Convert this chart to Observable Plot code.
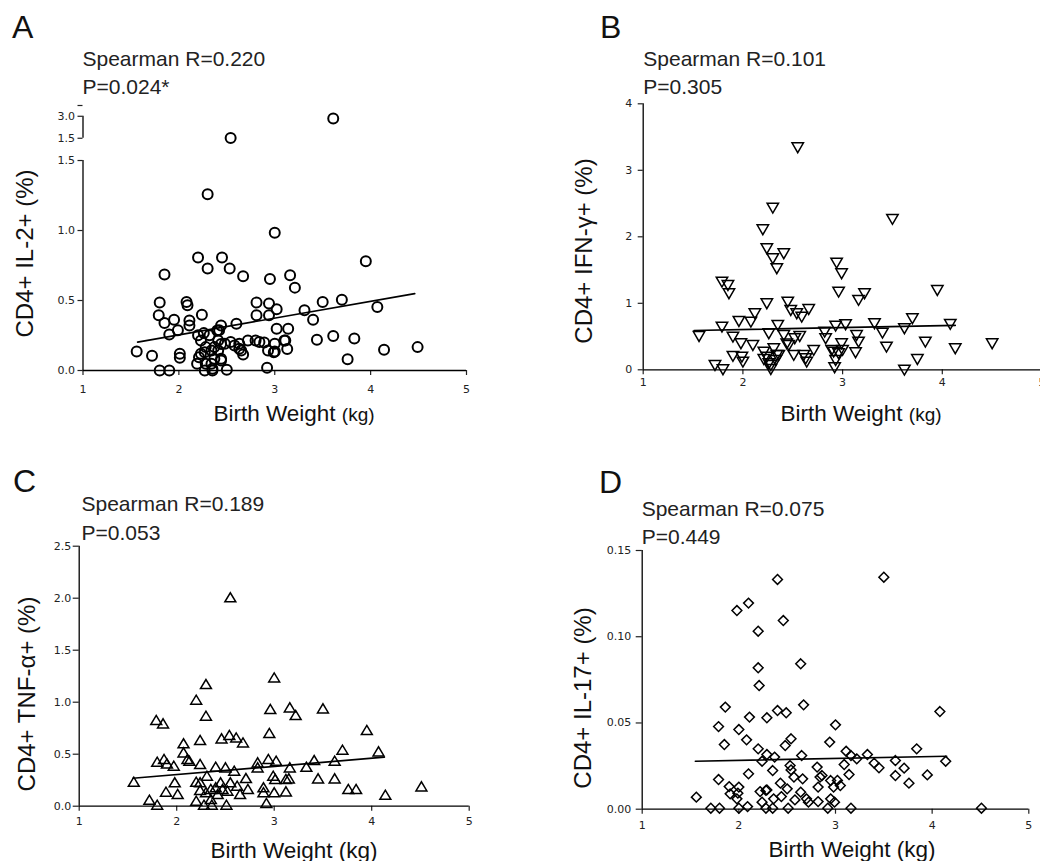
<!DOCTYPE html>
<html>
<head>
<meta charset="utf-8">
<script src="https://cdn.jsdelivr.net/npm/d3@7"></script>
<script src="https://cdn.jsdelivr.net/npm/@observablehq/plot@0.6"></script>
<style>
  html, body { margin: 0; padding: 0; background: #fff; }
  #root { position: relative; width: 1040px; height: 861px; overflow: hidden; background: #fff; }
  #root svg { position: absolute; }
</style>
</head>
<body>
<div id="root"></div>
<script>
// ---------------- DATA ----------------
const xTicks = [1, 2, 3, 4, 5];
const xLabel = "Birth Weight";
const xUnit = "(kg)";

// Panel A: CD4+ IL-2+ (%)
const weightA = [2.54,3.61,2.30,3.00,3.95,2.20,2.45,2.30,2.53,2.67,1.85,2.95,3.16,3.21,1.80,1.79,1.85,1.95,1.99,1.90,
  2.08,2.09,2.11,2.11,2.24,2.20,2.26,2.44,2.42,2.60,2.81,2.94,2.81,2.94,3.02,3.02,3.14,3.31,3.40,3.50,
  3.70,4.07,3.44,3.61,3.83,3.76,4.14,4.49,1.56,1.72,2.01,2.01,1.80,1.90,2.19,2.23,2.27,2.35,2.34,2.37,
  2.44,2.50,2.28,2.37,2.41,2.48,2.54,2.58,2.65,2.63,2.72,2.84,2.93,2.92,3.00,3.00,3.11,3.13,2.23,2.32,
  2.27,2.41,2.67,2.34,2.44,2.63,2.21,2.28,2.44,2.35,3.10,2.80,2.89,2.99,2.40];
const il2A = [1.51,2.84,1.259,0.984,0.781,0.807,0.807,0.728,0.728,0.673,0.685,0.654,0.681,0.592,0.485,0.394,0.339,0.363,0.287,0.258,
  0.490,0.466,0.358,0.322,0.399,0.251,0.267,0.322,0.287,0.334,0.485,0.478,0.394,0.394,0.437,0.299,0.299,0.430,0.363,0.490,
  0.506,0.454,0.220,0.246,0.229,0.081,0.148,0.167,0.136,0.105,0.119,0.091,0.000,0.000,0.048,0.119,0.000,0.000,0.048,0.084,
  0.084,0.005,0.167,0.167,0.215,0.191,0.203,0.179,0.143,0.191,0.215,0.203,0.143,0.019,0.191,0.136,0.215,0.153,0.215,0.251,
  0.131,0.143,0.115,0.143,0.190,0.155,0.095,0.048,0.071,0.012,0.214,0.214,0.200,0.131,0.286];
const fitXA = [1.57, 4.46];
const fitYA = [0.203, 0.549];
const yTicksMainA = [0, 0.5, 1.0, 1.5];
const yTicksUpperA = [1.5, 3.0];

// Panel B: CD4+ IFN-γ+ (%)
const weightB = [2.55,2.30,3.50,2.20,2.24,2.41,2.30,2.34,2.94,2.99,1.79,1.85,1.86,2.96,3.16,3.22,3.95,2.24,2.45,2.48,
  2.54,2.66,2.59,2.12,2.08,1.96,1.79,2.35,2.93,3.03,3.32,3.70,4.08,3.62,3.40,1.56,1.90,2.26,2.41,2.52,
  2.57,2.82,2.83,3.14,3.16,3.44,3.83,4.13,4.50,1.98,2.10,2.21,2.31,2.46,2.71,2.89,2.99,3.00,3.13,1.90,
  1.99,2.00,2.24,2.26,2.33,2.36,2.51,2.61,2.64,2.93,2.92,3.75,1.72,1.80,2.28,3.62,2.96,2.21,2.28,2.44,
  2.63,2.91,2.34];
const ifnB = [3.363,2.456,2.286,2.130,1.845,1.769,1.694,1.544,1.629,1.469,1.343,1.293,1.168,1.193,1.068,1.168,1.218,1.018,1.043,0.917,
  0.867,0.932,0.817,0.867,0.742,0.752,0.667,0.692,0.682,0.702,0.717,0.792,0.707,0.642,0.576,0.526,0.516,0.566,0.541,0.491,
  0.526,0.591,0.491,0.541,0.441,0.366,0.441,0.341,0.416,0.416,0.391,0.291,0.341,0.391,0.316,0.316,0.416,0.316,0.281,0.226,
  0.216,0.140,0.216,0.115,0.165,0.241,0.241,0.241,0.140,0.165,0.055,0.180,0.090,0.025,0.030,0.020,0.266,0.180,0.090,0.415,
  0.190,0.290,0.240];
const fitXB = [1.51, 4.13];
const fitYB = [0.591, 0.667];
const yTicksB = [0, 1, 2, 3, 4];

// Panel C: CD4+ TNF-α+ (%)
const weightC = [2.55,3.00,2.30,2.20,2.30,2.96,3.16,3.22,3.50,1.79,1.86,3.95,2.95,2.24,2.46,2.54,2.61,2.68,2.07,2.07,
  3.70,4.07,1.80,1.87,1.90,1.97,2.11,2.13,2.24,2.40,2.50,2.59,2.83,2.83,2.94,3.02,3.16,3.33,3.41,3.62,
  1.56,1.98,3.45,3.62,3.76,3.84,4.51,4.14,1.72,1.80,1.89,2.01,2.20,2.24,2.28,2.36,2.51,2.20,2.31,2.35,
  2.45,2.47,2.42,2.55,2.62,2.65,2.71,2.73,2.89,2.92,2.99,3.01,3.00,3.12,3.12,3.15,2.30,2.35,2.40,2.52,
  2.89,2.24];
const tnfC = [1.994,1.224,1.160,1.010,0.856,0.920,0.936,0.862,0.926,0.814,0.782,0.718,0.689,0.622,0.638,0.670,0.647,0.599,0.590,0.503,
  0.529,0.513,0.413,0.439,0.397,0.375,0.439,0.423,0.391,0.365,0.359,0.327,0.407,0.359,0.439,0.423,0.359,0.365,0.429,0.423,
  0.221,0.215,0.253,0.253,0.151,0.151,0.176,0.096,0.048,0.000,0.125,0.103,0.038,0.141,0.000,0.000,0.000,0.221,0.279,0.151,
  0.215,0.151,0.103,0.215,0.183,0.103,0.256,0.151,0.167,0.016,0.279,0.247,0.119,0.247,0.128,0.253,0.120,0.055,0.167,0.135,
  0.120,0.215];
const fitXC = [1.55, 4.13];
const fitYC = [0.269, 0.471];
const yTicksC = [0, 0.5, 1.0, 1.5, 2.0, 2.5];

// Panel D: CD4+ IL-17+ (%)
const weightD = [3.50,2.40,2.10,1.98,2.46,2.20,2.64,2.20,2.21,1.86,2.67,2.40,2.49,4.08,2.11,2.29,1.79,2.00,3.00,1.85,
  2.08,2.54,2.48,2.94,3.84,2.20,2.29,2.37,2.65,2.24,2.53,3.11,3.16,3.22,3.33,3.40,3.45,3.62,3.71,4.14,
  3.09,2.81,3.62,3.95,3.76,3.14,1.79,2.10,2.35,2.54,2.66,2.86,2.95,3.05,2.98,1.56,1.71,1.80,1.90,1.91,
  2.00,1.99,1.98,2.00,2.09,2.22,2.24,2.29,2.28,2.35,2.36,2.43,2.44,2.50,2.51,2.58,2.64,2.70,2.72,2.82,
  2.82,2.92,2.95,2.99,3.16,4.51,3.02,2.28,2.57,2.84];
const il17D = [0.1345,0.1332,0.1195,0.1152,0.1094,0.1032,0.0843,0.0820,0.0717,0.0592,0.0605,0.0572,0.0559,0.0566,0.0534,0.0530,0.0479,0.0462,0.0489,0.0375,
  0.0402,0.0408,0.0369,0.0389,0.0350,0.0350,0.0317,0.0302,0.0311,0.0278,0.0253,0.0336,0.0311,0.0292,0.0317,0.0267,0.0240,0.0282,0.0238,0.0278,
  0.0259,0.0244,0.0195,0.0199,0.0151,0.0201,0.0172,0.0205,0.0224,0.0228,0.0176,0.0195,0.0166,0.0137,0.0128,0.0070,0.0006,0.0006,0.0131,0.0089,
  0.0128,0.0093,0.0060,0.0006,0.0015,0.0102,0.0041,0.0112,0.0006,0.0006,0.0060,0.0151,0.0073,0.0118,0.0006,0.0054,0.0099,0.0060,0.0041,0.0128,
  0.0044,0.0006,0.0060,0.0041,0.0006,0.0006,0.0167,0.0109,0.0186,0.0186];
const fitXD = [1.55, 4.15];
const fitYD = [0.0278, 0.0307];
const yTicksD = [0, 0.05, 0.10, 0.15];

// ---------------- SYMBOLS ----------------
const downTriangle = { draw(ctx, size) {
  const r = Math.sqrt(size / Math.PI), w = r * 1.1, h = r * 1.9;
  ctx.moveTo(-w, -h / 3); ctx.lineTo(w, -h / 3); ctx.lineTo(0, 2 * h / 3); ctx.closePath();
}};
const upTriangle = { draw(ctx, size) {
  const r = Math.sqrt(size / Math.PI), w = r * 1.05, h = r * 1.75;
  ctx.moveTo(-w, h / 3); ctx.lineTo(w, h / 3); ctx.lineTo(0, -2 * h / 3); ctx.closePath();
}};
const diamond = { draw(ctx, size) {
  const r = Math.sqrt(size / Math.PI) * 0.98;
  ctx.moveTo(0, -r); ctx.lineTo(r, 0); ctx.lineTo(0, r); ctx.lineTo(-r, 0); ctx.closePath();
}};

// ---------------- BROKEN AXIS (panel A) ----------------
const upperStart = 1.659, upperScale = 0.1047, topA = 1.893;
const brk = v => v <= 1.5 ? v : upperStart + (v - 1.5) * upperScale;
const brkUpper = v => upperStart + (v - 1.5) * upperScale;

const root = document.getElementById("root");
const TEXT_FONT = "'Liberation Sans', Arial, sans-serif";

function makePanel(cfg) {
  const ty = cfg.ty || (v => v);
  const data = cfg.xs.map((x, i) => ({x, y: cfg.ys[i]}));
  const fit = cfg.fitX.map((x, i) => ({x, y: cfg.fitY[i]}));
  const yAxisLine = cfg.axisSegments
    ? Plot.ruleX(cfg.axisSegments, {x: () => xTicks[0], y1: "y1", y2: "y2", stroke: "black", strokeWidth: 1.3})
    : Plot.ruleX([xTicks[0]], {stroke: "black", strokeWidth: 1.3});
  const plot = Plot.plot({
    width: cfg.width, height: cfg.height,
    marginLeft: cfg.m[0], marginRight: cfg.m[1], marginTop: cfg.m[2], marginBottom: cfg.m[3],
    x: {domain: [xTicks[0], xTicks[xTicks.length - 1]]},
    y: {domain: cfg.yDomain},
    style: {fontFamily: "'DejaVu Sans', sans-serif", fontSize: "11px", color: "#222", background: "transparent", overflow: "visible"},
    marks: [
      Plot.axisX({ticks: xTicks, tickSize: 5, tickPadding: cfg.xPad, tickFormat: d => String(d), label: null, strokeWidth: 1.2}),
      Plot.axisY({ticks: cfg.yTickPos, tickSize: cfg.yTickSize, tickPadding: cfg.yPad, tickFormat: cfg.yFmt, label: null, strokeWidth: 1.2}),
      Plot.ruleY([0], {stroke: "black", strokeWidth: 1.3}),
      yAxisLine,
      Plot.line(fit, {x: "x", y: d => ty(d.y), stroke: "black", strokeWidth: 1.7}),
      Plot.dot(data, {x: "x", y: d => ty(d.y), r: cfg.r, symbol: cfg.symbol, stroke: "black", strokeWidth: cfg.sw, fill: "none"})
    ]
  });
  plot.style.left = cfg.left + "px";
  plot.style.top = cfg.top + "px";
  const svg = d3.select(plot);
  const g = svg.append("g").attr("font-family", TEXT_FONT).attr("text-anchor", "start");
  g.append("text").attr("x", cfg.letter[1]).attr("y", cfg.letter[2])
    .attr("font-size", 32).attr("fill", "#111").text(cfg.letter[0]);
  g.append("text").attr("x", cfg.stat[0]).attr("y", cfg.stat[1])
    .attr("font-size", 21).attr("fill", "#222").text(cfg.statR);
  g.append("text").attr("x", cfg.stat[0]).attr("y", cfg.stat[2])
    .attr("font-size", 21).attr("fill", "#222").text(cfg.statP);
  g.append("text").attr("transform", `translate(${cfg.yLab[0]},${cfg.yLab[1]}) rotate(-90)`)
    .attr("text-anchor", "middle").attr("font-size", 24).attr("fill", "#111").text(cfg.yTitle);
  const xl = g.append("text").attr("x", cfg.xLab[0]).attr("y", cfg.xLab[1]).attr("text-anchor", "middle")
    .attr("font-size", 22.5).attr("fill", "#111");
  xl.append("tspan").text(xLabel + " ");
  xl.append("tspan").attr("font-size", cfg.unitSize).text(xUnit);
  root.appendChild(plot);
}

// Panel A tick positions & labels
const tickPosA = [...yTicksMainA, ...yTicksUpperA.map(brkUpper), topA];
const tickLabA = new Map(tickPosA.map((p, i) => [p, i < yTicksMainA.length ? yTicksMainA[i].toFixed(1) : (i < yTicksMainA.length + yTicksUpperA.length ? yTicksUpperA[i - yTicksMainA.length].toFixed(1) : "")]));

makePanel({
  xs: weightA, ys: il2A, fitX: fitXA, fitY: fitYA, ty: brk,
  left: 0, top: 0, width: 520, height: 430, m: [82.5, 54, 105, 60],
  yDomain: [0, topA], yTickPos: tickPosA, yFmt: d => tickLabA.get(d),
  axisSegments: [{y1: 0, y2: 1.5}, {y1: brkUpper(yTicksUpperA[0]), y2: brkUpper(yTicksUpperA[1])}],
  xPad: 10, yTickSize: 5, yPad: 3, r: 5, sw: 2, symbol: "circle",
  letter: ["A", 12, 38], stat: [82.5, 65.5, 94], statR: "Spearman R=0.220", statP: "P=0.024*",
  yLab: [33, 253.5], yTitle: "CD4+ IL-2+ (%)", xLab: [294, 421], unitSize: 19
});

makePanel({
  xs: weightB, ys: ifnB, fitX: fitXB, fitY: fitYB,
  left: 520, top: 0, width: 524, height: 430, m: [122.7, 2.5, 103.3, 60.7],
  yDomain: [0, 4], yTickPos: yTicksB, yFmt: d => String(d),
  xPad: 3, yTickSize: 5, yPad: 6, r: 5.2, sw: 1.5, symbol: downTriangle,
  letter: ["B", 80, 38], stat: [123.3, 65.5, 94], statR: "Spearman R=0.101", statP: "P=0.305",
  yLab: [71.7, 251], yTitle: "CD4+ IFN-γ+ (%)", xLab: [341, 421], unitSize: 19
});

makePanel({
  xs: weightC, ys: tnfC, fitX: fitXC, fitY: fitYC,
  left: 0, top: 430, width: 520, height: 431, m: [78.7, 51.3, 115.7, 55.3],
  yDomain: [0, 2.5], yTickPos: yTicksC, yFmt: d => d.toFixed(1),
  xPad: 6, yTickSize: 6, yPad: 2, r: 5.2, sw: 1.5, symbol: upTriangle,
  letter: ["C", 13, 62], stat: [81.5, 81, 110], statR: "Spearman R=0.189", statP: "P=0.053",
  yLab: [35, 264], yTitle: "CD4+ TNF-α+ (%)", xLab: [294, 428], unitSize: 22.5
});

makePanel({
  xs: weightD, ys: il17D, fitX: fitXD, fitY: fitYD,
  left: 520, top: 430, width: 520, height: 431, m: [121.7, 11.7, 120, 52.3],
  yDomain: [0, 0.15], yTickPos: yTicksD, yFmt: d => d.toFixed(2),
  xPad: 6.5, yTickSize: 6, yPad: 5, r: 5, sw: 1.5, symbol: diamond,
  letter: ["D", 79, 63], stat: [121.7, 86, 114], statR: "Spearman R=0.075", statP: "P=0.449",
  yLab: [70.7, 268], yTitle: "CD4+ IL-17+ (%)", xLab: [332, 427], unitSize: 22.5
});
</script>
</body>
</html>
